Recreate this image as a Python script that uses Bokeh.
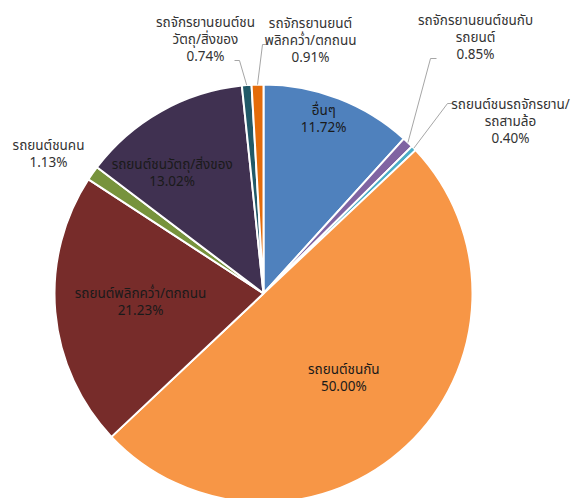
import numpy as np
from bokeh.plotting import figure
from bokeh.models import Range1d, ColumnDataSource
from bokeh.core.properties import value
from bokeh.embed import file_html
from bokeh.resources import INLINE

# ---- data (clockwise from 12 o'clock) ----
categories = [
    "อื่นๆ",
    "รถจักรยานยนต์ชนกับ\nรถยนต์",
    "รถยนต์ชนรถจักรยาน/\nรถสามล้อ",
    "รถยนต์ชนกัน",
    "รถยนต์พลิกคว่ำ/ตกถนน",
    "รถยนต์ชนคน",
    "รถยนต์ชนวัตถุ/สิ่งของ",
    "รถจักรยานยนต์ชน\nวัตถุ/สิ่งของ",
    "รถจักรยานยนต์\nพลิกคว่ำ/ตกถนน",
]
percents = [11.72, 0.85, 0.40, 50.00, 21.23, 1.13, 13.02, 0.74, 0.91]
colors = ["#4F81BD", "#8064A2", "#4BACC6", "#F79646", "#772C2A",
          "#77933C", "#403151", "#215968", "#E46C0A"]

# ---- layout ----
W, H = 577, 498
CX, CY, R = 263, H - 293, 209
inside = [True, False, False, True, True, False, True, False, False]
inside_r = [0.88, 0, 0, 0.56, 0.59, 0, 0.72, 0, 0]
inside_dang = [-2, 0, 0, 0, 1, 0, -8, 0, 0]  # clockwise degrees shift of label
# outside label centre (pixel coords, y down) and leader elbow (pixel coords)
outside_pos = {1: (475, 37), 2: (510, 121), 5: (48, 154), 7: (205, 39), 8: (310, 40)}
elbow = {1: [(436, 58), (430, 58)], 2: [(452, 103), (447, 103)],
         7: [(234, 60), (239, 60)], 8: [(268, 44), (262, 44)]}

vals = np.array(percents) / 100.0
cum = np.concatenate([[0], np.cumsum(vals)])
start = np.pi / 2 - cum[1:] * 2 * np.pi
end = np.pi / 2 - cum[:-1] * 2 * np.pi
mid = (start + end) / 2

p = figure(width=W, height=H, x_range=Range1d(0, W), y_range=Range1d(0, H),
           x_axis_type=None, y_axis_type=None, toolbar_location=None,
           output_backend="svg", min_border=0)
p.outline_line_color = None
p.grid.visible = False
p.background_fill_color = "white"

src = ColumnDataSource(dict(start=start, end=end, color=colors))
p.wedge(x=CX, y=CY, radius=R, start_angle="start", end_angle="end",
        fill_color="color", line_color="white", line_width=2, source=src)

font = value("Tahoma, 'Noto Sans Thai', 'Noto Sans', sans-serif")
tx, ty, tt, tc = [], [], [], []
for i, (cat, pc) in enumerate(zip(categories, percents)):
    label = f"{cat}\n{pc:.2f}%"
    if inside[i]:
        a = mid[i] - np.radians(inside_dang[i])
        x = CX + R * inside_r[i] * np.cos(a)
        y = CY + R * inside_r[i] * np.sin(a)
        col = "#1A1A1A"
    else:
        px, py = outside_pos[i]
        x, y = px, H - py
        col = "#333333"
        if i in elbow:
            pts = [(CX + R * np.cos(mid[i]), CY + R * np.sin(mid[i]))]
            e1, e2 = elbow[i]
            pts.append((e2[0], H - e2[1]))
            pts.append((e1[0], H - e1[1]))
            p.line([q[0] for q in pts], [q[1] for q in pts], line_color="#A6A6A6", line_width=1)
    tx.append(x); ty.append(y); tt.append(label); tc.append(col)

p.text(x=tx, y=ty, text=tt, text_color=tc, text_align="center",
       text_baseline="middle", text_font=font, text_font_size="13.5px",
       text_line_height=0.85)

open("out.html", "w").write(file_html(p, INLINE))
